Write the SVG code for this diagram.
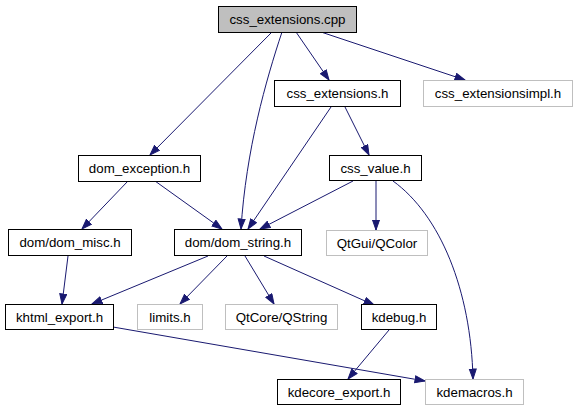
<svg xmlns="http://www.w3.org/2000/svg" width="577" height="411" viewBox="0 0 577 411">
<style>
.n rect{fill:#fff;stroke:#000;stroke-width:1}
.g rect{fill:#fff;stroke:#bfbfbf;stroke-width:1}
.r rect{fill:#bfbfbf;stroke:#000;stroke-width:1}
text{font-family:"Liberation Sans",Arial,sans-serif;font-size:13.3px;text-anchor:middle;fill:#000}
.e path{fill:none;stroke:#191970;stroke-width:1}
</style>
<defs>
<marker id="a" markerUnits="userSpaceOnUse" markerWidth="12" markerHeight="10" refX="10.5" refY="4" orient="auto">
<path d="M0.5,0.5 L10.5,4 L0.5,7.5 z" fill="#191970" stroke="#191970" stroke-width="1"/>
</marker>
</defs>
<g class="e" id="edges">
<path marker-end="url(#a)" d="M296,32 L329,80"/>
<path marker-end="url(#a)" d="M321,32 L465,80"/>
<path marker-end="url(#a)" d="M272,32 L150,155"/>
<path marker-end="url(#a)" d="M282,32 C266,80 246,150 241,229"/>
<path marker-end="url(#a)" d="M331,107 L248,229"/>
<path marker-end="url(#a)" d="M345,107 L369,155"/>
<path marker-end="url(#a)" d="M128,181 L82,229"/>
<path marker-end="url(#a)" d="M155,181 L222,229"/>
<path marker-end="url(#a)" d="M353,181 L260,229"/>
<path marker-end="url(#a)" d="M376,181 L376,230"/>
<path marker-end="url(#a)" d="M393,181 C440,215 471,290 473,379"/>
<path marker-end="url(#a)" d="M68,256 L62,304"/>
<path marker-end="url(#a)" d="M208,256 L92,304"/>
<path marker-end="url(#a)" d="M227,256 L180,304"/>
<path marker-end="url(#a)" d="M245,256 L274,304"/>
<path marker-end="url(#a)" d="M264,256 L374,305"/>
<path marker-end="url(#a)" d="M113,327 L425,381"/>
<path marker-end="url(#a)" d="M389,330 L348,379"/>
</g>
<g class="r" id="css_extensions_cpp"><rect x="218.5" y="6.5" width="138" height="26"/><text x="287.5" y="24">css_extensions.cpp</text></g>
<g class="n" id="css_extensions_h"><rect x="274.5" y="80.5" width="126" height="26"/><text x="337.5" y="98">css_extensions.h</text></g>
<g class="g" id="css_extensionsimpl_h"><rect x="423.5" y="80.5" width="149" height="26"/><text x="498" y="98">css_extensionsimpl.h</text></g>
<g class="n" id="dom_exception_h"><rect x="78.5" y="155.5" width="122" height="26"/><text x="139.5" y="173">dom_exception.h</text></g>
<g class="n" id="css_value_h"><rect x="329.5" y="155.5" width="92" height="25"/><text x="375.5" y="172.5">css_value.h</text></g>
<g class="n" id="dom_misc_h"><rect x="8.5" y="229.5" width="123" height="26"/><text x="70" y="247">dom/dom_misc.h</text></g>
<g class="n" id="dom_string_h"><rect x="174.5" y="229.5" width="127" height="26"/><text x="238" y="247">dom/dom_string.h</text></g>
<g class="g" id="qcolor"><rect x="326.5" y="230.5" width="101" height="25"/><text x="377" y="247.5">QtGui/QColor</text></g>
<g class="n" id="khtml_export_h"><rect x="5.5" y="304.5" width="108" height="25"/><text x="59.5" y="321.5">khtml_export.h</text></g>
<g class="g" id="limits_h"><rect x="137.5" y="304.5" width="65" height="25"/><text x="170" y="321.5">limits.h</text></g>
<g class="g" id="qstring"><rect x="225.5" y="304.5" width="112" height="25"/><text x="281.5" y="321.5">QtCore/QString</text></g>
<g class="n" id="kdebug_h"><rect x="361.5" y="304.5" width="75" height="25"/><text x="399" y="321.5">kdebug.h</text></g>
<g class="n" id="kdecore_export_h"><rect x="277.5" y="379.5" width="123" height="25"/><text x="339" y="396.5">kdecore_export.h</text></g>
<g class="g" id="kdemacros_h"><rect x="425.5" y="379.5" width="98" height="25"/><text x="474.5" y="396.5">kdemacros.h</text></g>
</svg>
